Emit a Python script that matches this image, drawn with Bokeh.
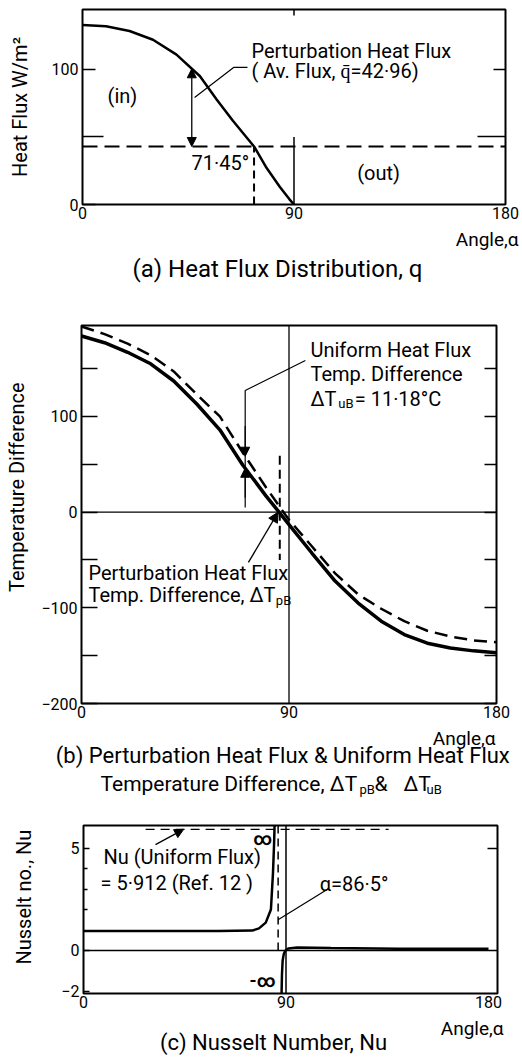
import math
from bokeh.plotting import figure
from bokeh.models import Label, Arrow, NormalHead, FixedTicker, LinearAxis, Range1d, Span
from bokeh.layouts import column
from bokeh.embed import file_html
from bokeh.resources import INLINE

FONT = "Roboto"
NB = "\u00a0"

# ---------------- (a) Heat flux distribution ----------------
angle_a = [0, 10, 20, 30, 40, 50, 57, 64, 73, 78, 84, 88, 90]
flux_a = [133, 132, 128.5, 122, 111, 95, 78, 62, 43, 28, 13, 4, 0]
avg_flux = 42.96
marker_angle_a = 73.0          # drawn position of the 71.45 deg marker
arrow_angle_a = 46.5
flux_at_arrow_a = 100.5
flux_ticks = [0, 100]
flux_minor_ticks = [50]
angle_ticks = [0, 90, 180]

# ---------------- (b) Temperature difference ----------------
angle_bp = [0, 10, 20, 30, 40, 50, 60, 70, 80, 85, 90, 100, 110, 120, 130, 140, 150, 160, 170, 180]
dT_pB = [184, 177, 167, 155, 137, 113, 86, 49, 17, 2, -13, -43, -72, -95, -114, -128, -137, -142, -145, -147]
angle_bu = [0, 10, 20, 30, 40, 50, 60, 70, 80, 87, 90, 100, 110, 120, 130, 140, 150, 160, 170, 180]
dT_uB = [194, 186, 176, 164, 147, 123, 100, 62, 26, 2, -8, -36, -64, -86, -101, -114, -124, -130, -134, -136]
temp_ticks = [-200, -100, 0, 100, 200]
temp_minor_ticks = [-150, -50, 50, 150]
marker_angle_b = 86.0
gap_angle_b = 71.0
dT_uB_at_gap = 58.4
dT_pB_at_gap = 45.8

# ---------------- (c) Nusselt number ----------------
angle_c_in = [0, 20, 40, 60, 75, 78, 81, 83.3, 84.2, 84.7, 85.0]
nu_in = [0.95, 0.95, 0.95, 0.95, 0.97, 1.08, 1.36, 2.0, 3.75, 5.2, 6.4]
angle_c_out = [88.0, 88.2, 88.5, 89.0, 89.6, 91, 95, 110, 140, 180]
nu_out = [-2.3, -1.2, -0.5, -0.18, -0.02, 0.1, 0.15, 0.12, 0.08, 0.08]
nu_uniform = 5.912
alpha_c = 86.5
nu_ticks = [-2, 0, 5]
nu_minor_ticks = [2, 3, 4]

W = 522


def base_fig(h, xr, yr, bl, br, bt, bb):
    p = figure(width=W, height=h, x_range=Range1d(*xr), y_range=Range1d(*yr),
               output_backend="svg", toolbar_location=None, frame_align=False,
               min_border_left=bl, min_border_right=br,
               min_border_top=bt, min_border_bottom=bb)
    p.grid.visible = False
    p.outline_line_color = "black"
    p.outline_line_width = 2
    p.background_fill_color = "white"
    p.border_fill_color = "white"
    return p


def cap_fig(h):
    p = figure(width=W, height=h, x_range=Range1d(0, W), y_range=Range1d(0, h),
               output_backend="svg", toolbar_location=None, frame_align=False,
               x_axis_location=None, y_axis_location=None,
               min_border=0, min_border_left=0, min_border_right=0,
               min_border_top=0, min_border_bottom=0)
    p.grid.visible = False
    p.outline_line_color = None
    p.background_fill_color = "white"
    p.border_fill_color = "white"
    return p


def style_axes(p, xt, yt, yminor, tin, tmin, rt, rminor, rtin, rtmin,
               ylabel, ylabel_standoff, lab_size="16px"):
    xa = p.xaxis[0]
    xa.ticker = FixedTicker(ticks=xt)
    xa.major_tick_in = 0
    xa.major_tick_out = 0
    xa.minor_tick_in = 0
    xa.minor_tick_out = 0
    xa.axis_line_color = None
    xa.major_label_text_font = FONT
    xa.major_label_text_font_size = lab_size
    xa.major_label_text_color = "black"
    xa.major_label_standoff = 2
    ya = p.yaxis[0]
    ya.ticker = FixedTicker(ticks=yt, minor_ticks=yminor)
    ya.major_tick_in = tin
    ya.major_tick_out = 0
    ya.minor_tick_in = tmin
    ya.minor_tick_out = 0
    ya.major_tick_line_width = 1.5
    ya.minor_tick_line_width = 1.5
    ya.axis_line_color = None
    ya.major_label_text_font = FONT
    ya.major_label_text_font_size = lab_size
    ya.major_label_text_color = "black"
    ya.major_label_standoff = 4
    ya.axis_label = ylabel
    ya.axis_label_text_font = FONT
    ya.axis_label_text_font_size = "20px"
    ya.axis_label_text_font_style = "normal"
    ya.axis_label_text_color = "black"
    ya.axis_label_standoff = ylabel_standoff
    ra = LinearAxis(ticker=FixedTicker(ticks=rt, minor_ticks=rminor),
                    major_label_overrides={t: "" for t in rt},
                    major_label_standoff=0,
                    major_tick_in=rtin, major_tick_out=0,
                    minor_tick_in=rtmin, minor_tick_out=0,
                    major_tick_line_width=1.5, minor_tick_line_width=1.5,
                    axis_line_color=None)
    p.add_layout(ra, "right")


def lab(p, x, y, text, size=20, align="left", baseline="middle", angle=0.0, style="normal"):
    p.add_layout(Label(x=x, y=y, text=text, text_font=FONT, text_font_size=f"{size}px",
                       text_align=align, text_baseline=baseline, angle=angle,
                       text_font_style=style, text_color="black"))


def head(size=10):
    return NormalHead(size=size, fill_color="black", line_color="black", line_width=1)


# ======================= (a) =======================
pa = base_fig(226, (0, 180), (0, 144.4), 82, 17, 9, 22)
style_axes(pa, angle_ticks, flux_ticks, flux_minor_ticks, 13, 21, [100], [50], 12, 28,
           "Heat Flux W/m\u00b2", 17)
pa.line(angle_a, flux_a, line_width=2.5, color="black")
pa.add_layout(Span(location=avg_flux, dimension="width", line_dash="15 7",
                   line_width=2, line_color="black"))
pa.line([marker_angle_a, marker_angle_a], [0, avg_flux], line_dash="8 5", line_width=2, color="black")
pa.line([90, 90], [0, 50], line_width=1.5, color="black")
pa.line([90, 90], [144.4, 140], line_width=1.5, color="black")
pa.add_layout(Arrow(start=head(9), end=head(9), x_start=arrow_angle_a, y_start=avg_flux,
                    x_end=arrow_angle_a, y_end=flux_at_arrow_a, line_width=1.3))
pa.line([47.7, 64.3, 70.2], [79.3, 101.5, 101.5], line_width=1.2, color="black")
lab(pa, 71.9, 114, "Perturbation Heat Flux")
lab(pa, 71.9, 98.5, "( Av. Flux, q\u0304=42\u00b796)")
lab(pa, 17, 80.7, "(in)", align="center")
lab(pa, 126, 23, "(out)", align="center")
lab(pa, 58.7, 30.4, "71\u00b745\u00b0", align="center")

ca = cap_fig(64)
lab(ca, 518, 51, "Angle,\u03b1", size=19, align="right")
lab(ca, 277, 22, "(a) Heat Flux Distribution, q", size=24, align="center")

# ======================= (b) =======================
pb = base_fig(435, (0, 180), (-200, 195), 81, 26, 35, 22)
style_axes(pb, angle_ticks, temp_ticks, temp_minor_ticks, 16, 16, temp_ticks, temp_minor_ticks, 12, 12,
           NB * 12 + "Temperature  Difference", 9)
pb.add_layout(Span(location=90, dimension="height", line_width=1.3, line_color="black"))
pb.add_layout(Span(location=0, dimension="width", line_width=1.3, line_color="black"))
pb.line(angle_bu, dT_uB, line_width=2.5, line_dash="13 7", color="black")
pb.line(angle_bp, dT_pB, line_width=3.5, color="black")
pb.line([marker_angle_b, marker_angle_b], [59, -50], line_width=2, line_dash="9 5", color="black")
pb.line([97.1, gap_angle_b, gap_angle_b], [158.4, 127, 4.8], line_width=1.2, color="black")
pb.add_layout(Arrow(end=head(9), x_start=gap_angle_b, y_start=90, x_end=gap_angle_b,
                    y_end=dT_uB_at_gap, line_width=1.2))
pb.add_layout(Arrow(end=head(9), x_start=gap_angle_b, y_start=15, x_end=gap_angle_b,
                    y_end=dT_pB_at_gap, line_width=1.2))
pb.add_layout(Arrow(end=head(10), x_start=72.4, y_start=-52.6, x_end=85.3, y_end=0,
                    line_width=1.3))
lab(pb, 99.3, 168.9, "Uniform Heat Flux")
lab(pb, 99.3, 143.8, "Temp. Difference")
lab(pb, 99.3, 118.7, "\u0394T")
lab(pb, 111.4, 113.0, "uB", size=13)
lab(pb, 118.5, 118.7, "= 11\u00b718\u00b0C")
lab(pb, 3.0, -64, "Perturbation Heat Flux")
lab(pb, 3.0, -87, "Temp. Difference, \u0394T")
lab(pb, 84.3, -92.5, "pB", size=13)

cb = cap_fig(75)
lab(cb, 495, 62, "Angle,\u03b1", size=19, align="right")
lab(cb, 285, 45, "(b) Perturbation  Heat Flux & Uniform Heat Flux", size=22, align="center")
lab(cb, 100, 17, "Temperature Difference, \u0394T", size=21)
lab(cb, 359, 11, "pB", size=13)
lab(cb, 374, 17, "&", size=21)
lab(cb, 403, 17, "\u0394T", size=21)
lab(cb, 426, 11, "uB", size=13)

# ======================= (c) =======================
pc = base_fig(215, (0, 184), (-2.1, 6.1), 83, 25, 25, 22)
style_axes(pc, angle_ticks, nu_ticks, nu_minor_ticks, 6, 4, [5], [], 10, 0,
           NB * 5 + "Nusselt no., Nu", 22)
pc.add_layout(Span(location=0, dimension="width", line_width=1.3, line_color="black"))
pc.add_layout(Span(location=90, dimension="height", line_width=1.5, line_color="black"))
pc.line([27.6, 135.6], [nu_uniform, nu_uniform], line_width=1.3, line_dash="9 6", color="black")
pc.line([alpha_c, alpha_c], [0, 6.1], line_width=1.5, line_dash="8 5", color="black")
pc.line(angle_c_in, nu_in, line_width=2.5, color="black")
pc.line(angle_c_out, nu_out, line_width=2.5, color="black")
pc.add_layout(Arrow(end=head(9), x_start=32, y_start=5.17, x_end=44.5, y_end=nu_uniform,
                    line_width=1.3))
pc.line([109, alpha_c], [3.03, 1.5], line_width=1.2, color="black")
lab(pc, 8.9, 4.54, "Nu (Uniform Flux)")
lab(pc, 7.6, 3.27, "=  5\u00b7912 (Ref. 12 )")
lab(pc, 105, 3.26, "\u03b1=86\u00b75\u00b0")
lab(pc, 79.6, 5.47, "\u221e", size=18, align="center", style="bold")
lab(pc, 79.6, -1.46, "-\u221e", size=18, align="center", style="bold")

cc = cap_fig(41)
lab(cc, 503, 28, "Angle,\u03b1", size=19, align="right")
lab(cc, 273, 14, "(c) Nusselt Number, Nu", size=22, align="center")

layout = column(pa, ca, pb, cb, pc, cc)
open("out.html", "w").write(file_html(layout, INLINE))
